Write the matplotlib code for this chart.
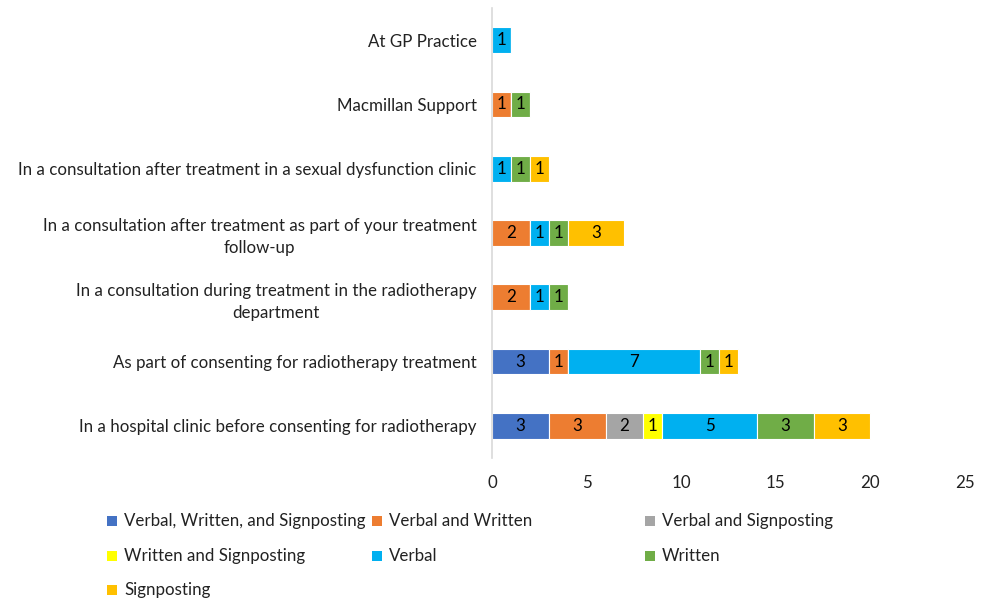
import matplotlib
matplotlib.use("Agg")
import matplotlib.pyplot as plt
from matplotlib.patches import Rectangle
import numpy as np

plt.rcParams['font.family'] = ['Lato', 'DejaVu Sans']

categories = [
    "In a hospital clinic before consenting for radiotherapy",
    "As part of consenting for radiotherapy treatment",
    "In a consultation during treatment in the radiotherapy\ndepartment",
    "In a consultation after treatment as part of your treatment\nfollow-up",
    "In a consultation after treatment in a sexual dysfunction clinic",
    "Macmillan Support",
    "At GP Practice",
]
series_names = [
    "Verbal, Written, and Signposting",
    "Verbal and Written",
    "Verbal and Signposting",
    "Written and Signposting",
    "Verbal",
    "Written",
    "Signposting",
]
vws = [3, 3, 0, 0, 0, 0, 0]
vw = [3, 1, 2, 2, 0, 1, 0]
vs = [2, 0, 0, 0, 0, 0, 0]
ws = [1, 0, 0, 0, 0, 0, 0]
verbal = [5, 7, 1, 1, 1, 0, 1]
written = [3, 1, 1, 1, 1, 1, 0]
signposting = [3, 1, 0, 3, 1, 0, 0]
series_values = [vws, vw, vs, ws, verbal, written, signposting]
colors = ["#4472C4", "#ED7D31", "#A5A5A5", "#FFFF00", "#00B0F0", "#70AD47", "#FFC000"]
xticks = [0, 5, 10, 15, 20, 25]

FS = 12.2
W, H = 991, 603
fig = plt.figure(figsize=(W / 100, H / 100), dpi=100)
ax = fig.add_axes([492 / W, 1 - 458 / H, (965 - 492) / W, 450 / H])

y = np.arange(len(categories))
left = np.zeros(len(categories))
for name, vals, c in zip(series_names, series_values, colors):
    vals = np.array(vals, dtype=float)
    bars = ax.barh(y, vals, left=left, height=0.4, color=c, edgecolor="white",
                   linewidth=0.8, label=name)
    for b, v in zip(bars, vals):
        if v > 0:
            ax.text(b.get_x() + b.get_width() / 2, b.get_y() + b.get_height() / 2,
                    f"{int(v)}", ha="center", va="center", fontsize=FS, color="black")
    left += vals

ax.set_xlim(0, 25)
ax.set_ylim(-0.5, len(categories) - 0.5)
ax.set_xticks(xticks)
ax.set_xticklabels([str(t) for t in xticks], fontsize=FS, color="#222222")
ax.set_yticks(y)
ax.set_yticklabels(categories, fontsize=FS, color="#222222", multialignment="center",
                   linespacing=1.45)
ax.tick_params(axis="both", length=0)
ax.tick_params(axis="x", pad=12)
ax.tick_params(axis="y", pad=11)
for s in ["top", "right", "bottom"]:
    ax.spines[s].set_visible(False)
ax.spines["left"].set_color("#D9D9D9")
ax.spines["left"].set_linewidth(1.2)

# legend laid out in a 3-column grid like the original
col_x = [107, 372, 645]
row_y = [521, 556, 590]
for i, (name, c) in enumerate(zip(series_names, colors)):
    r, cidx = divmod(i, 3)
    x0, y0 = col_x[cidx], row_y[r]
    fig.patches.append(Rectangle((x0 / W, 1 - (y0 + 5) / H), 10 / W, 10 / H,
                                 transform=fig.transFigure, facecolor=c, edgecolor="none"))
    fig.text((x0 + 17) / W, 1 - y0 / H, name, ha="left", va="center",
             fontsize=FS, color="#222222")

fig.savefig("out.png", dpi=100, facecolor="white")
